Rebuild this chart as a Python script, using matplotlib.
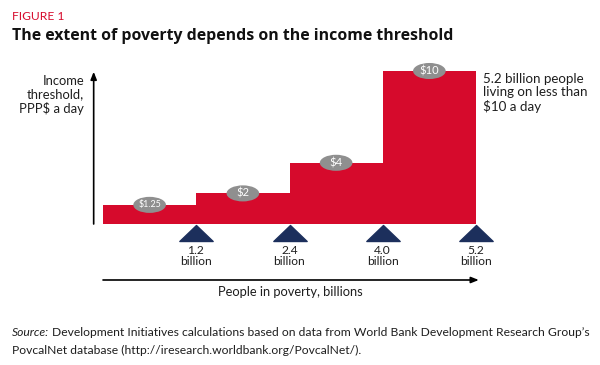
import matplotlib.pyplot as plt
from matplotlib.patches import Ellipse
from matplotlib.path import Path

RED = "#d60a2c"
NAVY = "#1c2f5c"
GREY = "#8f8f8f"
INK = "#1e1e1e"
BODY = ["Lato", "DejaVu Sans"]
HEAD = ["Open Sans", "DejaVu Sans"]

thresholds = [1.25, 2, 4, 10]
threshold_labels = ["$1.25", "$2", "$4", "$10"]
people = ["1.2", "2.4", "4.0", "5.2"]

W, H = 600, 365
fig = plt.figure(figsize=(6, 3.65), dpi=100)
renderer = fig.canvas.get_renderer()


def fx(px):
    return px / W


def fy(py):
    return 1 - py / H


def fit(t, width_px):
    """Scale a text's font size so its widest line spans width_px."""
    bb = t.get_window_extent(renderer)
    t.set_fontsize(t.get_fontsize() * width_px / bb.width)
    return t


# chart area: x is the step index, y is dollars a day
ax = fig.add_axes([fx(103), fy(224), fx(373), 153 / H])
ax.set_xlim(0, len(thresholds))
ax.set_ylim(0, 10)
ax.axis("off")

xs = list(range(len(thresholds) + 1))
ax.fill_between(xs, thresholds + [thresholds[-1]], step="post", color=RED, lw=0)

for i, (val, lab) in enumerate(zip(thresholds, threshold_labels)):
    ax.add_patch(Ellipse((i + 0.5, val), 0.35, 1.05, fc=GREY, ec="none",
                         clip_on=False, zorder=3))
    t = ax.text(i + 0.5, val, lab, ha="center", va="center", color="white",
                fontsize=8, family=BODY, clip_on=False, zorder=4)
    if len(lab) > 3:
        fit(t, 23)

tri = Path([(-1, -0.48), (1, -0.48), (0, 0.48), (-1, -0.48)],
           [Path.MOVETO, Path.LINETO, Path.LINETO, Path.CLOSEPOLY])
for i, p in enumerate(people):
    ax.plot(i + 1, -0.59, marker=tri, ms=24, color=NAVY, clip_on=False)
    t = ax.text(i + 1, -2.1, f"{p}\nbillion", ha="center", va="center",
                fontsize=9, family=BODY, color=INK, linespacing=1.0,
                clip_on=False)
    fit(t, 32)

# axis arrows
head = "-|>,head_width=0.18,head_length=0.45"
ax.annotate("", xy=(-0.1, 9.95), xytext=(-0.1, 0), annotation_clip=False,
            arrowprops=dict(arrowstyle=head, color="black", lw=1.2,
                            shrinkA=0, shrinkB=0))
ax.annotate("", xy=(4.03, -3.66), xytext=(0, -3.66), annotation_clip=False,
            arrowprops=dict(arrowstyle=head, color="black", lw=1.2,
                            shrinkA=0, shrinkB=0))

t = fig.text(fx(84), fy(95), "Income\nthreshold,\nPPP$ a day", ha="right",
             va="center", fontsize=10, family=BODY, color=INK, linespacing=1.1)
fit(t, 64)
t = fig.text(fx(483), fy(93), "5.2 billion people\nliving on less than\n$10 a day",
             ha="left", va="center", fontsize=10, family=BODY, color=INK,
             linespacing=1.1)
fit(t, 104)
t = fig.text(fx(290), fy(292), "People in poverty, billions", ha="center",
             va="center", fontsize=10, family=BODY, color=INK)
fit(t, 146)

t = fig.text(fx(12), fy(16), "FIGURE 1", ha="left", va="center",
             fontsize=9, family=BODY, color=RED)
fit(t, 52)
t = fig.text(fx(12), fy(36), "The extent of poverty depends on the income threshold",
             ha="left", va="center", fontsize=12, family=HEAD, weight="bold",
             color="#111111")
fit(t, 440)

# source note: italic lead-in followed by plain text, fitted to one line width
src_lead = fig.text(fx(12), fy(332), "Source:", ha="left", va="center",
                    fontsize=9, family=BODY, style="italic", color=INK)
src_rest = fig.text(fx(50), fy(332),
                    "Development Initiatives calculations based on data from "
                    "World Bank Development Research Group\u2019s",
                    ha="left", va="center", fontsize=9, family=BODY, color=INK)
src_two = fig.text(fx(12), fy(350),
                   "PovcalNet database (http://iresearch.worldbank.org/PovcalNet/).",
                   ha="left", va="center", fontsize=9, family=BODY, color=INK)
w_lead = src_lead.get_window_extent(renderer).width
w_rest = src_rest.get_window_extent(renderer).width
gap = 3
k = (580 - gap) / (w_lead + w_rest)
for t in (src_lead, src_rest, src_two):
    t.set_fontsize(9 * k)
src_rest.set_x(fx(12 + w_lead * k + gap))

fig.savefig("out.png", dpi=100)
